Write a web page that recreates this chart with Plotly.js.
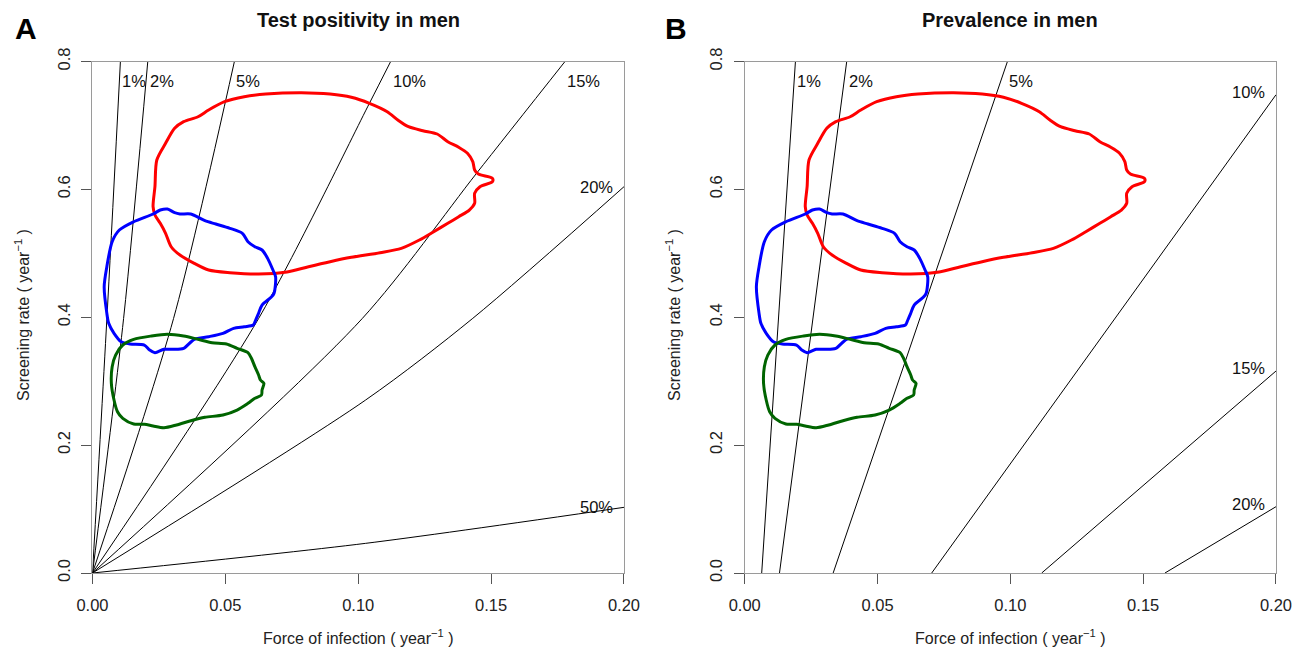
<!DOCTYPE html>
<html><head><meta charset="utf-8">
<script src="https://cdn.plot.ly/plotly-3.0.1.min.js"></script>
<style>html,body{margin:0;padding:0;background:#fff}#chart{width:1294px;height:650px}</style>
</head><body><div id="chart"></div>
<script>
// Posterior contours: force of infection (x, per year) vs screening rate (y, per year)
const redX = [0.0228,0.0235,0.0242,0.0275,0.0309,0.0343,0.0397,0.0437,0.0497,0.0571,0.0652,0.0786,0.0894,0.0974,0.1042,0.1109,0.1149,0.1189,0.1243,0.1297,0.1337,0.1378,0.1411,0.1431,0.1438,0.1452,0.1505,0.1505,0.1458,0.1438,0.1438,0.1418,0.1378,0.1337,0.1284,0.1230,0.1162,0.1082,0.0974,0.0894,0.0813,0.0732,0.0625,0.0517,0.0437,0.0383,0.0329,0.0296,0.0275,0.0255,0.0235];
const redY = [0.5729,0.6042,0.6459,0.6720,0.6955,0.7059,0.7136,0.7241,0.7371,0.7449,0.7491,0.7512,0.7491,0.7440,0.7346,0.7215,0.7085,0.6980,0.6918,0.6866,0.6746,0.6658,0.6564,0.6433,0.6303,0.6240,0.6173,0.6120,0.6042,0.5938,0.5782,0.5677,0.5573,0.5469,0.5338,0.5208,0.5078,0.5010,0.4937,0.4869,0.4791,0.4708,0.4676,0.4697,0.4739,0.4843,0.4973,0.5103,0.5313,0.5469,0.5599];
const blueX = [0.0044,0.0054,0.0074,0.0101,0.0155,0.0228,0.0255,0.0282,0.0309,0.0329,0.0370,0.0423,0.0464,0.0517,0.0564,0.0585,0.0611,0.0638,0.0659,0.0679,0.0689,0.0683,0.0672,0.0638,0.0625,0.0614,0.0605,0.0571,0.0531,0.0491,0.0437,0.0383,0.0343,0.0303,0.0269,0.0235,0.0215,0.0195,0.0141,0.0108,0.0081,0.0061,0.0054];
const blueY = [0.4478,0.4791,0.5182,0.5364,0.5494,0.5615,0.5677,0.5693,0.5635,0.5615,0.5615,0.5510,0.5458,0.5391,0.5313,0.5182,0.5103,0.5052,0.4921,0.4739,0.4634,0.4374,0.4312,0.4191,0.4062,0.3957,0.3879,0.3852,0.3827,0.3749,0.3696,0.3655,0.3514,0.3499,0.3499,0.3446,0.3488,0.3566,0.3582,0.3617,0.3749,0.3905,0.4061];
const greenX = [0.0155,0.0222,0.0282,0.0343,0.0397,0.0450,0.0504,0.0544,0.0585,0.0598,0.0611,0.0625,0.0632,0.0645,0.0638,0.0636,0.0611,0.0585,0.0544,0.0491,0.0423,0.0370,0.0316,0.0269,0.0228,0.0195,0.0155,0.0114,0.0094,0.0081,0.0071,0.0074,0.0087,0.0114];
const greenY = [0.3655,0.3707,0.3733,0.3707,0.3655,0.3602,0.3582,0.3514,0.3446,0.3358,0.3227,0.3097,0.3018,0.2967,0.2862,0.2784,0.2732,0.2654,0.2549,0.2471,0.2435,0.2382,0.2315,0.2272,0.2299,0.2326,0.2330,0.2419,0.2523,0.2706,0.2967,0.3227,0.3409,0.3566];

// Panel A: test positivity isolines
const posLabels = ['1%','2%','5%','10%','15%','20%','50%'];
const posX = [[0,0.0058,0.0105],[0,0.0117,0.0208],[0,0.0305,0.0534],[0,0.0625,0.1042,0.1122],[0,0.1015,0.1445,0.1778],[0,0.1028,0.1431,0.2],[0,0.1028,0.2]];
const posY = [[0,0.427,0.8],[0,0.398,0.8],[0,0.398,0.8],[0,0.398,0.7346,0.8],[0,0.398,0.6251,0.8],[0,0.2706,0.3983,0.6042],[0,0.0464,0.1027]];

// Panel B: prevalence isolines
const prevLabels = ['1%','2%','5%','10%','15%','20%'];
const prevX = [[0.0064,0.0191],[0.0131,0.0384],[0.0333,0.0989],[0.0704,0.2],[0.1118,0.2],[0.1582,0.2]];
const prevY = [[0,0.8],[0,0.8],[0,0.8],[0,0.748],[0,0.3159],[0,0.1037]];

// Axis ticks
const xTicks = [0, 0.05, 0.10, 0.15, 0.20];
const yTicks = [0, 0.2, 0.4, 0.6, 0.8];

const FONT = 'Liberation Sans, Arial, Helvetica, sans-serif';
const traces = [];
function iso(xs, ys, xa, ya) {
  traces.push({x: xs, y: ys, xaxis: xa, yaxis: ya, mode: 'lines', type: 'scatter',
    line: {color: '#000', width: 1, shape: 'spline', smoothing: 0.8}, hoverinfo: 'skip', showlegend: false});
}
posX.forEach((xs, i) => iso(xs, posY[i], 'x', 'y'));
prevX.forEach((xs, i) => iso(xs, prevY[i], 'x2', 'y2'));

function closed(a) { return a.concat([a[0]]); }
const contours = [[redX, redY, '#ff0000'], [blueX, blueY, '#0000ff'], [greenX, greenY, '#006400']];
[['x','y'],['x2','y2']].forEach(([xa, ya]) => {
  contours.forEach(([cx, cy, col]) => {
    traces.push({x: closed(cx), y: closed(cy), xaxis: xa, yaxis: ya, mode: 'lines', type: 'scatter',
      line: {color: col, width: 3, shape: 'spline', smoothing: 0.8}, hoverinfo: 'skip', showlegend: false});
  });
});

function xAxis(domain, anchor) {
  return {domain: domain, anchor: anchor, range: [0, 0.2], tickvals: xTicks, tickformat: '.2f',
    showline: true, mirror: true, linecolor: '#9a9a9a', linewidth: 1, ticks: 'outside', ticklen: 10,
    tickcolor: '#555', tickwidth: 1, showgrid: false, zeroline: false, ticklabelstandoff: 7,
    tickfont: {family: FONT, size: 16.5, color: '#222'}, fixedrange: true};
}
function yAxis(anchor) {
  return {domain: [0.11846, 0.90538], anchor: anchor, range: [0, 0.8], tickvals: yTicks, tickformat: '.1f',
    tickangle: -90, showline: true, mirror: true, linecolor: '#9a9a9a', linewidth: 1, ticks: 'outside', ticklen: 10,
    tickcolor: '#555', tickwidth: 1, showgrid: false, zeroline: false, ticklabelstandoff: 5,
    tickfont: {family: FONT, size: 16.5, color: '#222'}, fixedrange: true};
}

const ann = [];
const lblFont = {family: FONT, size: 16.5, color: '#111'};
posLabels.forEach((t, i) => {
  const xs = posX[i], ys = posY[i];
  const lastX = xs[xs.length - 1], lastY = ys[ys.length - 1];
  if (lastY >= 0.8) {
    ann.push({xref: 'x', yref: 'y', x: lastX, y: 0.77, text: t, showarrow: false, xanchor: 'left', yanchor: 'middle', font: lblFont});
  } else {
    ann.push({xref: 'x', yref: 'y', x: 0.1965, y: lastY, text: t, showarrow: false, xanchor: 'right', yanchor: 'middle', font: lblFont});
  }
});
prevLabels.forEach((t, i) => {
  const xs = prevX[i], ys = prevY[i];
  const lastX = xs[xs.length - 1], lastY = ys[ys.length - 1];
  if (lastY >= 0.8) {
    ann.push({xref: 'x2', yref: 'y2', x: lastX, y: 0.77, text: t, showarrow: false, xanchor: 'left', yanchor: 'middle', font: lblFont});
  } else {
    ann.push({xref: 'x2', yref: 'y2', x: 0.1965, y: lastY + 0.005, text: t, showarrow: false, xanchor: 'right', yanchor: 'middle', font: lblFont});
  }
});
const titleFont = {family: FONT, size: 20, color: '#111'};
const axFont = {family: FONT, size: 16, color: '#222'};
const letterFont = {family: FONT, size: 30, color: '#000'};
ann.push(
  {xref: 'paper', yref: 'paper', x: 358.25/1294, y: 1 - 20/650, text: '<b>Test positivity in men</b>', showarrow: false, xanchor: 'center', yanchor: 'middle', font: titleFont},
  {xref: 'paper', yref: 'paper', x: 1010.35/1294, y: 1 - 20/650, text: '<b>Prevalence in men</b>', showarrow: false, xanchor: 'center', yanchor: 'middle', font: titleFont},
  {xref: 'paper', yref: 'paper', x: 26/1294, y: 1 - 28/650, text: '<b>A</b>', showarrow: false, xanchor: 'center', yanchor: 'middle', font: letterFont},
  {xref: 'paper', yref: 'paper', x: 676/1294, y: 1 - 28/650, text: '<b>B</b>', showarrow: false, xanchor: 'center', yanchor: 'middle', font: letterFont},
  {xref: 'paper', yref: 'paper', x: 358.25/1294, y: 1 - 637/650, text: 'Force of infection ( year<sup>−1</sup> )', showarrow: false, xanchor: 'center', yanchor: 'middle', font: axFont},
  {xref: 'paper', yref: 'paper', x: 1010.35/1294, y: 1 - 637/650, text: 'Force of infection ( year<sup>−1</sup> )', showarrow: false, xanchor: 'center', yanchor: 'middle', font: axFont},
  {xref: 'paper', yref: 'paper', x: 22/1294, y: 1 - 315/650, text: 'Screening rate ( year<sup>−1</sup> )', textangle: -90, showarrow: false, xanchor: 'center', yanchor: 'middle', font: axFont},
  {xref: 'paper', yref: 'paper', x: 673/1294, y: 1 - 315/650, text: 'Screening rate ( year<sup>−1</sup> )', textangle: -90, showarrow: false, xanchor: 'center', yanchor: 'middle', font: axFont}
);

const layout = {
  width: 1294, height: 650, margin: {l: 0, r: 0, t: 0, b: 0},
  paper_bgcolor: '#fff', plot_bgcolor: '#fff', showlegend: false, hovermode: false,
  xaxis: xAxis([0.07148, 0.48222], 'y'),
  yaxis: yAxis('x'),
  xaxis2: xAxis([0.57550, 0.98609], 'y2'),
  yaxis2: yAxis('x2'),
  annotations: ann,
  font: {family: FONT}
};
Plotly.newPlot('chart', traces, layout, {displayModeBar: false, staticPlot: true});
</script>
</body></html>
